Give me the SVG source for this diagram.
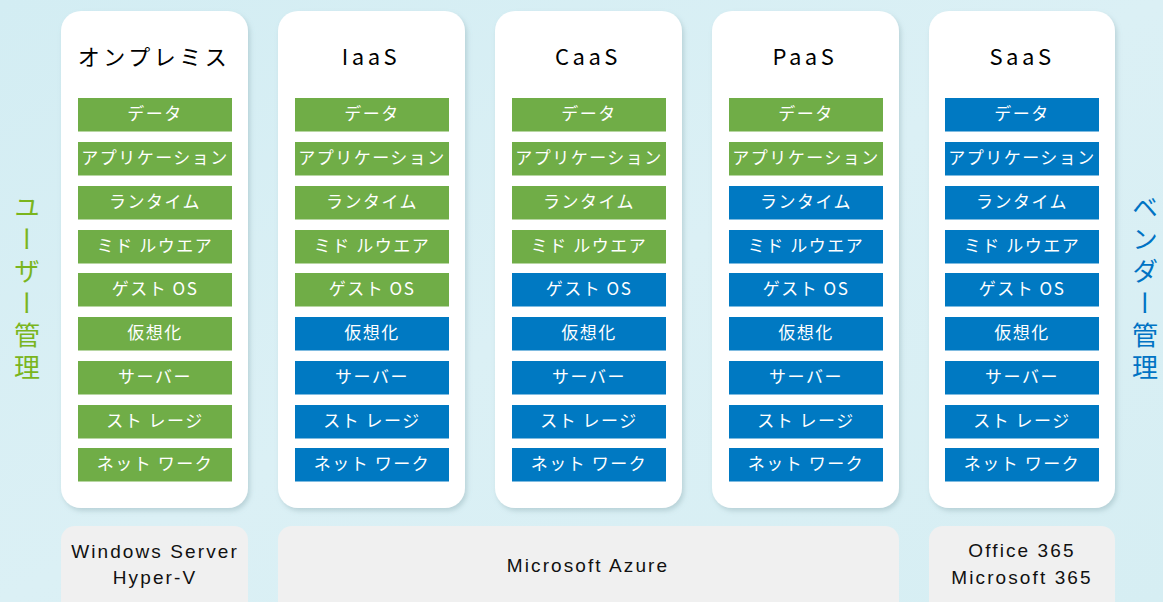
<svg xmlns="http://www.w3.org/2000/svg" width="1163" height="602" viewBox="0 0 1163 602">
<defs>
<linearGradient id="bg" x1="0" y1="0" x2="1" y2="1">
<stop offset="0" stop-color="#d3edf3"/>
<stop offset="0.5" stop-color="#dbf0f5"/>
<stop offset="1" stop-color="#d6eef3"/>
</linearGradient>
<filter id="sh" x="-10%" y="-10%" width="120%" height="120%">
<feDropShadow dx="2" dy="3" stdDeviation="2.5" flood-color="#7a9aa3" flood-opacity="0.35"/>
</filter>
<style>
.col{fill:#ffffff;filter:url(#sh)}
.base{fill:#f0f0f0}
.g{fill:#70ad47}
.b{fill:#0079c2}
.bt{font-family:"Noto Sans CJK JP","Liberation Sans",sans-serif;font-size:17px;fill:#ffffff;text-anchor:middle;letter-spacing:1.5px}
.tt{font-family:"Noto Sans CJK JP","Liberation Sans",sans-serif;font-size:22px;fill:#000000;text-anchor:middle;letter-spacing:3.5px}
.lt{font-family:"Liberation Sans","Noto Sans CJK JP",sans-serif;font-size:19px;fill:#111111;text-anchor:middle;letter-spacing:2.1px}
.side{font-family:"Noto Sans CJK JP",sans-serif;font-size:26px;writing-mode:vertical-rl;text-anchor:middle;letter-spacing:6px}
</style>
</defs>
<rect x="0" y="0" width="1163" height="602" fill="url(#bg)"/>

<g id="label-user"><text class="side" x="27" y="290" fill="#7ab51d">ユーザー管理</text></g>
<g id="label-vendor"><text class="side" x="1145" y="290" fill="#0073c4">ベンダー管理</text></g>

<g id="col-onprem">
<rect class="col" x="61" y="11" width="187" height="497" rx="20"/>
<text class="tt" x="154" y="65">オンプレミス</text>
<rect class="g" x="78" y="98" width="154" height="33.5"/><text class="bt" x="155" y="120">データ</text>
<rect class="g" x="78" y="142" width="154" height="33.5"/><text class="bt" x="155" y="164">アプリケーション</text>
<rect class="g" x="78" y="186" width="154" height="33.5"/><text class="bt" x="155" y="208">ランタイム</text>
<rect class="g" x="78" y="230" width="154" height="33.5"/><text class="bt" x="155" y="252">ミド ルウエア</text>
<rect class="g" x="78" y="273" width="154" height="33.5"/><text class="bt" x="155" y="295">ゲスト OS</text>
<rect class="g" x="78" y="317" width="154" height="33.5"/><text class="bt" x="155" y="339">仮想化</text>
<rect class="g" x="78" y="361" width="154" height="33.5"/><text class="bt" x="155" y="383">サーバー</text>
<rect class="g" x="78" y="405" width="154" height="33.5"/><text class="bt" x="155" y="427">スト レージ</text>
<rect class="g" x="78" y="448" width="154" height="33.5"/><text class="bt" x="155" y="470">ネット ワーク</text>
</g>

<g id="col-iaas">
<rect class="col" x="278" y="11" width="187" height="497" rx="20"/>
<text class="tt" x="371" y="65">IaaS</text>
<rect class="g" x="295" y="98" width="154" height="33.5"/><text class="bt" x="372" y="120">データ</text>
<rect class="g" x="295" y="142" width="154" height="33.5"/><text class="bt" x="372" y="164">アプリケーション</text>
<rect class="g" x="295" y="186" width="154" height="33.5"/><text class="bt" x="372" y="208">ランタイム</text>
<rect class="g" x="295" y="230" width="154" height="33.5"/><text class="bt" x="372" y="252">ミド ルウエア</text>
<rect class="g" x="295" y="273" width="154" height="33.5"/><text class="bt" x="372" y="295">ゲスト OS</text>
<rect class="b" x="295" y="317" width="154" height="33.5"/><text class="bt" x="372" y="339">仮想化</text>
<rect class="b" x="295" y="361" width="154" height="33.5"/><text class="bt" x="372" y="383">サーバー</text>
<rect class="b" x="295" y="405" width="154" height="33.5"/><text class="bt" x="372" y="427">スト レージ</text>
<rect class="b" x="295" y="448" width="154" height="33.5"/><text class="bt" x="372" y="470">ネット ワーク</text>
</g>

<g id="col-caas">
<rect class="col" x="495" y="11" width="187" height="497" rx="20"/>
<text class="tt" x="588" y="65">CaaS</text>
<rect class="g" x="512" y="98" width="154" height="33.5"/><text class="bt" x="589" y="120">データ</text>
<rect class="g" x="512" y="142" width="154" height="33.5"/><text class="bt" x="589" y="164">アプリケーション</text>
<rect class="g" x="512" y="186" width="154" height="33.5"/><text class="bt" x="589" y="208">ランタイム</text>
<rect class="g" x="512" y="230" width="154" height="33.5"/><text class="bt" x="589" y="252">ミド ルウエア</text>
<rect class="b" x="512" y="273" width="154" height="33.5"/><text class="bt" x="589" y="295">ゲスト OS</text>
<rect class="b" x="512" y="317" width="154" height="33.5"/><text class="bt" x="589" y="339">仮想化</text>
<rect class="b" x="512" y="361" width="154" height="33.5"/><text class="bt" x="589" y="383">サーバー</text>
<rect class="b" x="512" y="405" width="154" height="33.5"/><text class="bt" x="589" y="427">スト レージ</text>
<rect class="b" x="512" y="448" width="154" height="33.5"/><text class="bt" x="589" y="470">ネット ワーク</text>
</g>

<g id="col-paas">
<rect class="col" x="712" y="11" width="187" height="497" rx="20"/>
<text class="tt" x="805" y="65">PaaS</text>
<rect class="g" x="729" y="98" width="154" height="33.5"/><text class="bt" x="806" y="120">データ</text>
<rect class="g" x="729" y="142" width="154" height="33.5"/><text class="bt" x="806" y="164">アプリケーション</text>
<rect class="b" x="729" y="186" width="154" height="33.5"/><text class="bt" x="806" y="208">ランタイム</text>
<rect class="b" x="729" y="230" width="154" height="33.5"/><text class="bt" x="806" y="252">ミド ルウエア</text>
<rect class="b" x="729" y="273" width="154" height="33.5"/><text class="bt" x="806" y="295">ゲスト OS</text>
<rect class="b" x="729" y="317" width="154" height="33.5"/><text class="bt" x="806" y="339">仮想化</text>
<rect class="b" x="729" y="361" width="154" height="33.5"/><text class="bt" x="806" y="383">サーバー</text>
<rect class="b" x="729" y="405" width="154" height="33.5"/><text class="bt" x="806" y="427">スト レージ</text>
<rect class="b" x="729" y="448" width="154" height="33.5"/><text class="bt" x="806" y="470">ネット ワーク</text>
</g>

<g id="col-saas">
<rect class="col" x="929" y="11" width="186" height="497" rx="20"/>
<text class="tt" x="1022" y="65">SaaS</text>
<rect class="b" x="945" y="98" width="154" height="33.5"/><text class="bt" x="1022" y="120">データ</text>
<rect class="b" x="945" y="142" width="154" height="33.5"/><text class="bt" x="1022" y="164">アプリケーション</text>
<rect class="b" x="945" y="186" width="154" height="33.5"/><text class="bt" x="1022" y="208">ランタイム</text>
<rect class="b" x="945" y="230" width="154" height="33.5"/><text class="bt" x="1022" y="252">ミド ルウエア</text>
<rect class="b" x="945" y="273" width="154" height="33.5"/><text class="bt" x="1022" y="295">ゲスト OS</text>
<rect class="b" x="945" y="317" width="154" height="33.5"/><text class="bt" x="1022" y="339">仮想化</text>
<rect class="b" x="945" y="361" width="154" height="33.5"/><text class="bt" x="1022" y="383">サーバー</text>
<rect class="b" x="945" y="405" width="154" height="33.5"/><text class="bt" x="1022" y="427">スト レージ</text>
<rect class="b" x="945" y="448" width="154" height="33.5"/><text class="bt" x="1022" y="470">ネット ワーク</text>
</g>

<g id="base-windows">
<rect class="base" x="61" y="526" width="187" height="100" rx="14"/>
<text class="lt" x="155" y="558">Windows Server</text>
<text class="lt" x="155" y="584">Hyper-V</text>
</g>
<g id="base-azure">
<rect class="base" x="278" y="526" width="621" height="100" rx="14"/>
<text class="lt" x="588" y="572">Microsoft Azure</text>
</g>
<g id="base-office">
<rect class="base" x="929" y="526" width="186" height="100" rx="14"/>
<text class="lt" x="1022" y="557">Office 365</text>
<text class="lt" x="1022" y="584">Microsoft 365</text>
</g>
<g id="connectors"/>
</svg>
